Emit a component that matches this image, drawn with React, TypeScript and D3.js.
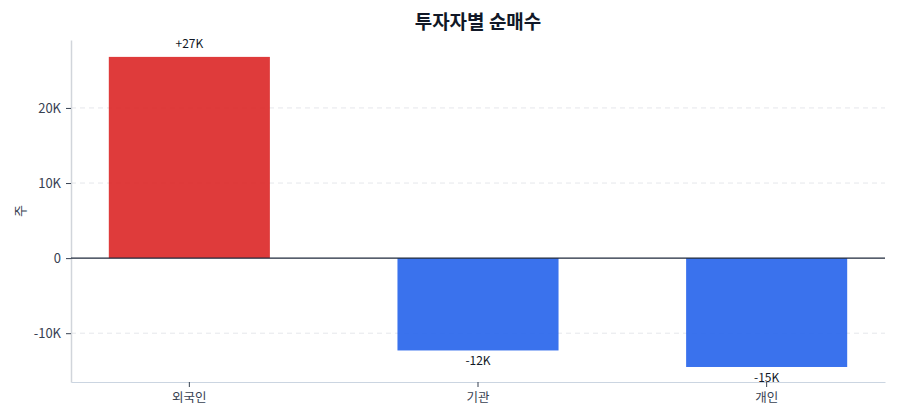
import { useEffect, useRef } from "react";
import * as d3 from "d3";

const investors = ["외국인", "기관", "개인"];
const netBuy = [26800, -12300, -14500];
const valueLabels = ["+27K", "-12K", "-15K"];
const yTicks = [-10000, 0, 10000, 20000];

export default function App() {
  const svgRef = useRef<SVGSVGElement | null>(null);

  useEffect(() => {
    document.body.style.margin = "0";
    const width = 900;
    const height = 420;
    const margin = { top: 40, right: 15, bottom: 38, left: 71 };
    const font = "'Noto Sans CJK KR', 'Noto Sans', sans-serif";

    const x = d3
      .scaleBand<string>()
      .domain(investors)
      .range([margin.left, width - margin.right])
      .paddingInner(0.442)
      .paddingOuter(0.131);

    const y = d3
      .scaleLinear()
      .domain([-16500, 29050])
      .range([height - margin.bottom, margin.top]);

    const svg = d3
      .select(svgRef.current)
      .attr("width", width)
      .attr("height", height)
      .style("font-family", font)
      .html("");

    // dashed grid
    svg
      .append("g")
      .selectAll("line")
      .data(yTicks.filter((t) => t !== 0))
      .join("line")
      .attr("x1", margin.left)
      .attr("x2", width - margin.right)
      .attr("y1", (d) => y(d))
      .attr("y2", (d) => y(d))
      .attr("stroke", "#e5e7eb")
      .attr("stroke-dasharray", "5,4");

    // bars
    const data = investors.map((name, i) => ({
      name,
      value: netBuy[i],
      label: valueLabels[i],
    }));

    svg
      .append("g")
      .selectAll("rect")
      .data(data)
      .join("rect")
      .attr("x", (d) => x(d.name)!)
      .attr("width", x.bandwidth())
      .attr("y", (d) => y(Math.max(0, d.value)))
      .attr("height", (d) => Math.abs(y(d.value) - y(0)))
      .attr("fill", (d) => (d.value >= 0 ? "#dc2626" : "#2563eb"))
      .attr("fill-opacity", 0.9);

    // value labels
    svg
      .append("g")
      .selectAll("text")
      .data(data)
      .join("text")
      .attr("x", (d) => x(d.name)! + x.bandwidth() / 2)
      .attr("y", (d) => (d.value >= 0 ? y(d.value) - 9 : y(d.value) + 15))
      .attr("text-anchor", "middle")
      .attr("font-size", 12)
      .attr("fill", "#111827")
      .text((d) => d.label);

    // y axis
    const yAxis = svg
      .append("g")
      .attr("transform", `translate(${margin.left},0)`)
      .call(
        d3
          .axisLeft(y)
          .tickValues(yTicks)
          .tickSize(5)
          .tickSizeOuter(0)
          .tickPadding(5)
          .tickFormat((d) => (+d === 0 ? "0" : `${+d / 1000}K`)),
      );
    yAxis.select(".domain").attr("stroke", "#d1d5db").attr("stroke-width", 1.5);
    yAxis.selectAll(".tick line").attr("stroke", "#374151");
    yAxis
      .selectAll(".tick text")
      .attr("fill", "#374151")
      .attr("font-size", 13)
      .style("font-family", font);

    // x axis
    const xAxis = svg
      .append("g")
      .attr("transform", `translate(0,${height - margin.bottom})`)
      .call(d3.axisBottom(x).tickSize(5).tickSizeOuter(0).tickPadding(6));
    xAxis.select(".domain").attr("stroke", "#cbd5e1").attr("stroke-width", 1);
    xAxis.selectAll(".tick line").attr("stroke", "#374151");
    xAxis
      .selectAll(".tick text")
      .attr("fill", "#374151")
      .attr("font-size", 12.5)
      .style("font-family", font);

    // zero line
    svg
      .append("line")
      .attr("x1", margin.left)
      .attr("x2", width - margin.right)
      .attr("y1", y(0))
      .attr("y2", y(0))
      .attr("stroke", "#1e293b")
      .attr("stroke-width", 1.2);

    // title
    svg
      .append("text")
      .attr("x", (margin.left + width - margin.right) / 2)
      .attr("y", 29)
      .attr("text-anchor", "middle")
      .attr("font-size", 19)
      .attr("font-weight", "bold")
      .attr("fill", "#111827")
      .text("투자자별 순매수");

    // y label
    svg
      .append("text")
      .attr("transform", `translate(25,${(margin.top + height - margin.bottom) / 2}) rotate(-90)`)
      .attr("text-anchor", "middle")
      .attr("font-size", 13)
      .attr("fill", "#374151")
      .text("주");
  }, []);

  return <svg ref={svgRef} style={{ display: "block" }}></svg>;
}
